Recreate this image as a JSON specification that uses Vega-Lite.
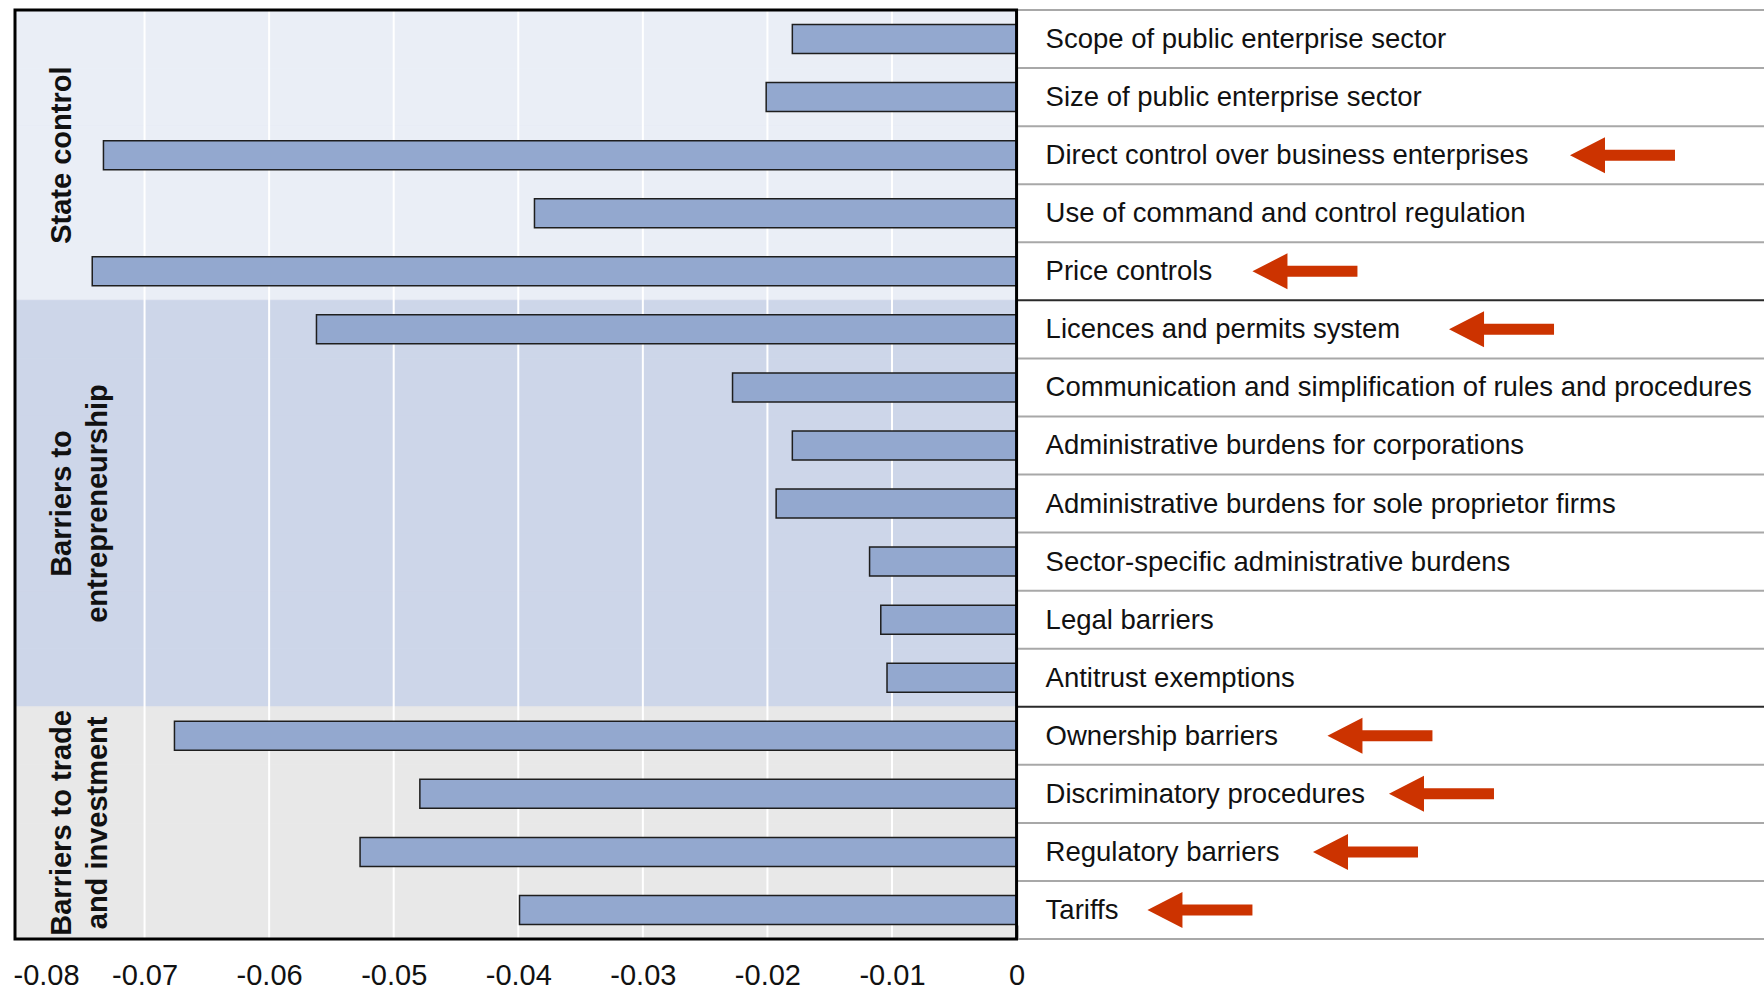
{
  "$schema": "https://vega.github.io/schema/vega-lite/v6.json",
  "width": 1749,
  "height": 929,
  "autosize": {"type": "none"},
  "padding": {"left": 15, "top": 10, "right": 0, "bottom": 52},
  "background": "white",
  "config": {
    "view": {"stroke": null},
    "locale": {"number": {"decimal": ".", "thousands": ",", "grouping": [3], "currency": ["$", ""], "minus": "-"}},
    "axisX": {
      "domain": false, "grid": false, "ticks": true, "tickSize": 14, "offset": -14, "tickColor": "#000000", "tickWidth": 1.5,
      "labelFont": "Liberation Sans", "labelFontSize": 29, "labelColor": "#111111", "labelPadding": 22,
      "labelFlush": 10, "labelFlushOffset": 7, "labelOverlap": false, "labelBound": false, "zindex": 1
    }
  },
  "data": {"values": [
    {"label": "Scope of public enterprise sector", "group": "State control", "value": -0.0180},
    {"label": "Size of public enterprise sector", "group": "State control", "value": -0.0201},
    {"label": "Direct control over business enterprises", "group": "State control", "value": -0.0733},
    {"label": "Use of command and control regulation", "group": "State control", "value": -0.0387},
    {"label": "Price controls", "group": "State control", "value": -0.0742},
    {"label": "Licences and permits system", "group": "Barriers to\nentrepreneurship", "value": -0.0562},
    {"label": "Communication and simplification of rules and procedures", "group": "Barriers to\nentrepreneurship", "value": -0.0228},
    {"label": "Administrative burdens for corporations", "group": "Barriers to\nentrepreneurship", "value": -0.0180},
    {"label": "Administrative burdens for sole proprietor firms", "group": "Barriers to\nentrepreneurship", "value": -0.0193},
    {"label": "Sector-specific administrative burdens", "group": "Barriers to\nentrepreneurship", "value": -0.0118},
    {"label": "Legal barriers", "group": "Barriers to\nentrepreneurship", "value": -0.0109},
    {"label": "Antitrust exemptions", "group": "Barriers to\nentrepreneurship", "value": -0.0104},
    {"label": "Ownership barriers", "group": "Barriers to trade\nand investment", "value": -0.0676},
    {"label": "Discriminatory procedures", "group": "Barriers to trade\nand investment", "value": -0.0479},
    {"label": "Regulatory barriers", "group": "Barriers to trade\nand investment", "value": -0.0527},
    {"label": "Tariffs", "group": "Barriers to trade\nand investment", "value": -0.0399}
  ]},
  "layer": [
    {
      "mark": {"type": "bar", "height": {"band": 1}, "strokeWidth": 0.8},
      "encoding": {
        "y": {"field": "label", "type": "nominal", "sort": null, "scale": {"paddingInner": 0, "paddingOuter": 0}, "axis": null},
        "x": {"datum": -0.0804, "type": "quantitative", "scale": {"domain": [-0.0804, 0.06], "nice": false, "zero": false}},
        "x2": {"datum": 0},
        "fill": {"field": "group", "type": "nominal", "legend": null, "scale": {"domain": ["State control", "Barriers to\nentrepreneurship", "Barriers to trade\nand investment"], "range": ["#eaeef6", "#cdd6e9", "#e8e8e8"]}},
        "stroke": {"field": "group", "type": "nominal", "legend": null, "scale": {"domain": ["State control", "Barriers to\nentrepreneurship", "Barriers to trade\nand investment"], "range": ["#eaeef6", "#cdd6e9", "#e8e8e8"]}}
      }
    },
    {
      "data": {"values": [{"v": -0.07}, {"v": -0.06}, {"v": -0.05}, {"v": -0.04}, {"v": -0.03}, {"v": -0.02}, {"v": -0.01}]},
      "mark": {"type": "rule", "color": "#ffffff", "strokeWidth": 2},
      "encoding": {
        "x": {"field": "v", "type": "quantitative", "scale": {"domain": [-0.0804, 0.06], "nice": false, "zero": false},
              "axis": {"values": [-0.08, -0.07, -0.06, -0.05, -0.04, -0.03, -0.02, -0.01, 0], "title": null, "format": "~g", "labelExpr": "replace(datum.label, '\u2212', '-')"}}
      }
    },
    {
      "mark": {"type": "bar", "height": {"band": 0.5}, "fill": "#93a8cf", "stroke": "#1e1e1e", "strokeWidth": 1.5},
      "encoding": {
        "y": {"field": "label", "type": "nominal", "sort": null, "scale": {"paddingInner": 0, "paddingOuter": 0}, "axis": null},
        "x": {"field": "value", "type": "quantitative", "scale": {"domain": [-0.0804, 0.06], "nice": false, "zero": false},
              "axis": {"values": [-0.08, -0.07, -0.06, -0.05, -0.04, -0.03, -0.02, -0.01, 0], "title": null, "format": "~g", "labelExpr": "replace(datum.label, '\u2212', '-')"}},
        "x2": {"datum": 0}
      }
    },
    {
      "mark": {"type": "rule", "strokeWidth": 2},
      "encoding": {
        "y": {"field": "label", "type": "nominal", "sort": null, "bandPosition": 0, "scale": {"paddingInner": 0, "paddingOuter": 0}, "axis": null},
        "x": {"datum": 0, "type": "quantitative", "scale": {"domain": [-0.0804, 0.06], "nice": false, "zero": false}},
        "x2": {"datum": 0.0604},
        "color": {"condition": {"test": "datum.label == 'Licences and permits system' || datum.label == 'Ownership barriers'", "value": "#2a2a2a"}, "value": "#a8a8a8"}
      }
    },
    {
      "transform": [{"filter": "datum.label == 'Tariffs'"}],
      "mark": {"type": "rule", "strokeWidth": 2, "color": "#a8a8a8"},
      "encoding": {
        "y": {"field": "label", "type": "nominal", "sort": null, "bandPosition": 1, "scale": {"paddingInner": 0, "paddingOuter": 0}, "axis": null},
        "x": {"datum": 0, "type": "quantitative", "scale": {"domain": [-0.0804, 0.06], "nice": false, "zero": false}},
        "x2": {"datum": 0.0604}
      }
    },
    {
      "data": {"values": [{"frame": "plot"}]},
      "mark": {"type": "rect", "filled": false, "stroke": "#000000", "strokeWidth": 3},
      "encoding": {
        "x": {"datum": -0.0804, "type": "quantitative", "scale": {"domain": [-0.0804, 0.06], "nice": false, "zero": false}},
        "x2": {"datum": 0}
      }
    },
    {
      "mark": {"type": "text", "align": "left", "baseline": "middle", "font": "Liberation Sans", "fontSize": 27.5, "color": "#111111", "dy": 1},
      "encoding": {
        "y": {"field": "label", "type": "nominal", "sort": null, "scale": {"paddingInner": 0, "paddingOuter": 0}, "axis": null},
        "x": {"datum": 0.00233, "type": "quantitative", "scale": {"domain": [-0.0804, 0.06], "nice": false, "zero": false}},
        "text": {"field": "label"}
      }
    },
    {
      "transform": [{"filter": "datum.label == 'Direct control over business enterprises' || datum.label == 'Administrative burdens for sole proprietor firms'"}],
      "mark": {"type": "text", "angle": 270, "align": "center", "baseline": "alphabetic", "font": "Liberation Sans", "fontWeight": "bold", "fontSize": 29, "lineBreak": "\n", "lineHeight": 36, "color": "#111111"},
      "encoding": {
        "y": {"field": "label", "type": "nominal", "sort": null, "scale": {"paddingInner": 0, "paddingOuter": 0}, "axis": null},
        "x": {"datum": -0.07591, "type": "quantitative", "scale": {"domain": [-0.0804, 0.06], "nice": false, "zero": false}},
        "text": {"field": "group"}
      }
    },
    {
      "transform": [{"filter": "datum.label == 'Regulatory barriers'"}],
      "mark": {"type": "text", "angle": 270, "align": "center", "baseline": "alphabetic", "font": "Liberation Sans", "fontWeight": "bold", "fontSize": 29, "lineBreak": "\n", "lineHeight": 36, "color": "#111111"},
      "encoding": {
        "y": {"field": "label", "type": "nominal", "sort": null, "bandPosition": 0, "scale": {"paddingInner": 0, "paddingOuter": 0}, "axis": null},
        "x": {"datum": -0.07591, "type": "quantitative", "scale": {"domain": [-0.0804, 0.06], "nice": false, "zero": false}},
        "text": {"field": "group"}
      }
    },
    {
      "data": {"values": [
        {"label": "Direct control over business enterprises", "arrow": 0.04864},
        {"label": "Price controls", "arrow": 0.02315},
        {"label": "Licences and permits system", "arrow": 0.03893},
        {"label": "Ownership barriers", "arrow": 0.02917},
        {"label": "Discriminatory procedures", "arrow": 0.03411},
        {"label": "Regulatory barriers", "arrow": 0.02801},
        {"label": "Tariffs", "arrow": 0.01472}
      ]},
      "mark": {"type": "point", "filled": true, "opacity": 1, "color": "#cc3300", "strokeWidth": 0, "size": 11025,
               "shape": "M-1,0L-0.333,-0.343L-0.333,-0.105L1,-0.105L1,0.105L-0.333,0.105L-0.333,0.343Z"},
      "encoding": {
        "y": {"field": "label", "type": "nominal", "sort": null, "scale": {"paddingInner": 0, "paddingOuter": 0}, "axis": null},
        "x": {"field": "arrow", "type": "quantitative", "scale": {"domain": [-0.0804, 0.06], "nice": false, "zero": false}}
      }
    }
  ]
}
